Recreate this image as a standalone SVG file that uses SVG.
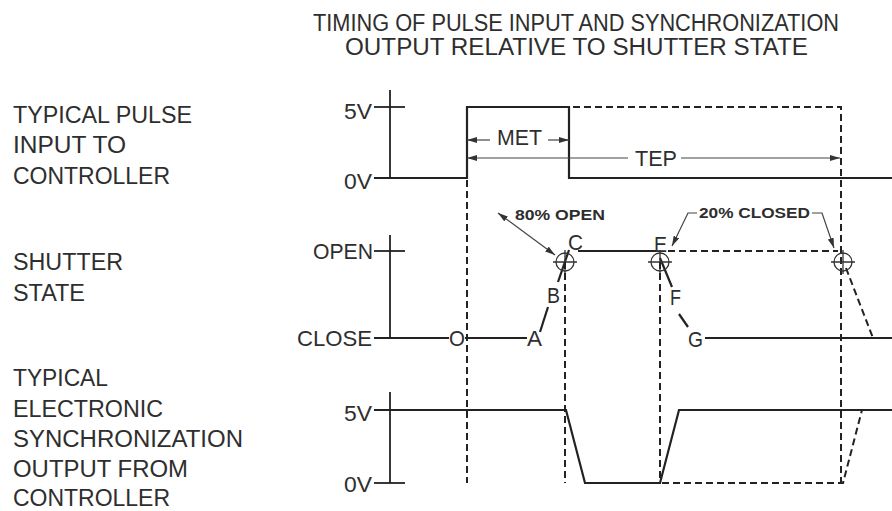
<svg xmlns="http://www.w3.org/2000/svg" width="892" height="511" viewBox="0 0 892 511">
<style>
text{font-family:"Liberation Sans",Arial,sans-serif;fill:#2e2e2e}
.lbl{font-size:23px}
.ax{font-size:22px}
.sm{font-size:14px;font-weight:bold}
.ttl{font-size:23px}
.sig{stroke:#222;stroke-width:2.2;fill:none}
.axl{stroke:#222;stroke-width:1.8;fill:none}
.dsh{stroke:#222;stroke-width:2;fill:none;stroke-dasharray:7 4}
.dim{stroke:#444;stroke-width:1.2;fill:none}
.circ{stroke:#333;stroke-width:1.3;fill:none}
</style>
<defs>
<marker id="ah" viewBox="0 0 10 6" refX="10" refY="3" markerWidth="10" markerHeight="6" markerUnits="userSpaceOnUse" orient="auto-start-reverse">
<path d="M0,0 L10,3 L0,6 z" fill="#333"/>
</marker>
</defs>

<g id="title">
<text class="ttl" x="313" y="31" textLength="526" lengthAdjust="spacingAndGlyphs">TIMING OF PULSE INPUT AND SYNCHRONIZATION</text>
<text class="ttl" x="345" y="55" textLength="463" lengthAdjust="spacingAndGlyphs">OUTPUT RELATIVE TO SHUTTER STATE</text>
</g>

<g id="labels">
<text class="lbl" x="13" y="123" textLength="179" lengthAdjust="spacingAndGlyphs">TYPICAL PULSE</text>
<text class="lbl" x="13" y="153" textLength="113" lengthAdjust="spacingAndGlyphs">INPUT TO</text>
<text class="lbl" x="13" y="184" textLength="157" lengthAdjust="spacingAndGlyphs">CONTROLLER</text>
<text class="lbl" x="13" y="270" textLength="110" lengthAdjust="spacingAndGlyphs">SHUTTER</text>
<text class="lbl" x="13" y="301" textLength="72" lengthAdjust="spacingAndGlyphs">STATE</text>
<text class="lbl" x="13" y="386" textLength="95" lengthAdjust="spacingAndGlyphs">TYPICAL</text>
<text class="lbl" x="13" y="417" textLength="150" lengthAdjust="spacingAndGlyphs">ELECTRONIC</text>
<text class="lbl" x="13" y="447" textLength="230" lengthAdjust="spacingAndGlyphs">SYNCHRONIZATION</text>
<text class="lbl" x="13" y="477" textLength="175" lengthAdjust="spacingAndGlyphs">OUTPUT FROM</text>
<text class="lbl" x="13" y="506" textLength="157" lengthAdjust="spacingAndGlyphs">CONTROLLER</text>
</g>

<g id="pulse-input">
<line class="axl" x1="390" y1="90" x2="390" y2="178"/>
<line class="axl" x1="374" y1="107" x2="405" y2="107"/>
<text class="ax" x="344" y="119" textLength="28" lengthAdjust="spacingAndGlyphs">5V</text>
<text class="ax" x="344" y="189" textLength="28" lengthAdjust="spacingAndGlyphs">0V</text>
<polyline class="sig" points="374,178 467,178 467,107 569,107 569,178 892,178"/>
<polyline class="dsh" points="573,107 841,107 841,483"/>
<line class="dim" x1="490" y1="140" x2="467" y2="140" marker-end="url(#ah)"/>
<line class="dim" x1="548" y1="140" x2="569" y2="140" marker-end="url(#ah)"/>
<text class="ax" x="497" y="145" textLength="45" lengthAdjust="spacingAndGlyphs">MET</text>
<line class="dim" x1="628" y1="158" x2="467" y2="158" marker-end="url(#ah)"/>
<line class="dim" x1="681" y1="158" x2="840" y2="158" marker-end="url(#ah)"/>
<text class="ax" x="635" y="166" textLength="42" lengthAdjust="spacingAndGlyphs">TEP</text>
</g>

<g id="shutter-state">
<line class="axl" x1="390" y1="235" x2="390" y2="338"/>
<line class="axl" x1="374" y1="251" x2="405" y2="251"/>
<text class="ax" x="313" y="259" textLength="60" lengthAdjust="spacingAndGlyphs">OPEN</text>
<text class="ax" x="297" y="346" textLength="75" lengthAdjust="spacingAndGlyphs">CLOSE</text>
<line class="sig" x1="374" y1="338" x2="449" y2="338"/>
<text class="ax" x="449" y="346" textLength="16" lengthAdjust="spacingAndGlyphs">O</text>
<line class="sig" x1="465" y1="338" x2="527" y2="338"/>
<text class="ax" x="527" y="346" textLength="15" lengthAdjust="spacingAndGlyphs">A</text>
<line class="sig" x1="540" y1="332" x2="548" y2="307"/>
<text class="ax" x="547" y="303" textLength="13" lengthAdjust="spacingAndGlyphs">B</text>
<line class="sig" x1="558" y1="282" x2="569" y2="250"/>
<text class="ax" x="568" y="250" textLength="15" lengthAdjust="spacingAndGlyphs">C</text>
<line class="sig" x1="578" y1="251" x2="656" y2="251"/>
<text class="ax" x="654" y="252" textLength="13" lengthAdjust="spacingAndGlyphs">E</text>
<line class="dsh" x1="668" y1="251" x2="838" y2="251"/>
<line class="sig" x1="660" y1="258" x2="672" y2="287"/>
<text class="ax" x="670" y="305" textLength="11" lengthAdjust="spacingAndGlyphs">F</text>
<line class="sig" x1="679" y1="314" x2="688" y2="327"/>
<text class="ax" x="688" y="347" textLength="15" lengthAdjust="spacingAndGlyphs">G</text>
<line class="sig" x1="705" y1="338" x2="892" y2="338"/>
<line class="dsh" x1="846" y1="268" x2="873" y2="338"/>
<g id="circles">
<circle class="circ" cx="565" cy="262" r="9"/>
<path class="circ" d="M553,262 H577 M565,250 V274"/>
<circle class="circ" cx="660" cy="262" r="9"/>
<path class="circ" d="M648,262 H672 M660,250 V274"/>
<circle class="circ" cx="843" cy="262" r="9"/>
<path class="circ" d="M831,262 H855 M843,250 V274"/>
</g>
<line class="dsh" x1="565" y1="262" x2="565" y2="483"/>
<line class="dsh" x1="660" y1="262" x2="660" y2="483"/>
<line class="dsh" x1="467" y1="180" x2="467" y2="483"/>
<line class="dim" x1="498" y1="213" x2="555" y2="255" marker-start="url(#ah)" marker-end="url(#ah)"/>
<text class="sm" x="515" y="220" textLength="90" lengthAdjust="spacingAndGlyphs">80% OPEN</text>
<polyline class="dim" points="697,213 688,213 672,246" marker-end="url(#ah)"/>
<polyline class="dim" points="812,213 822,213 834,248" marker-end="url(#ah)"/>
<text class="sm" x="699" y="218" textLength="111" lengthAdjust="spacingAndGlyphs">20% CLOSED</text>
</g>

<g id="sync-output">
<line class="axl" x1="390" y1="392" x2="390" y2="483"/>
<line class="axl" x1="374" y1="483" x2="405" y2="483"/>
<text class="ax" x="344" y="421" textLength="28" lengthAdjust="spacingAndGlyphs">5V</text>
<text class="ax" x="344" y="492" textLength="28" lengthAdjust="spacingAndGlyphs">0V</text>
<polyline class="sig" points="374,410 566,410 585,483 660,483 679,410 892,410"/>
<polyline class="dsh" points="662,483 843,483 862,410"/>
</g>
</svg>
